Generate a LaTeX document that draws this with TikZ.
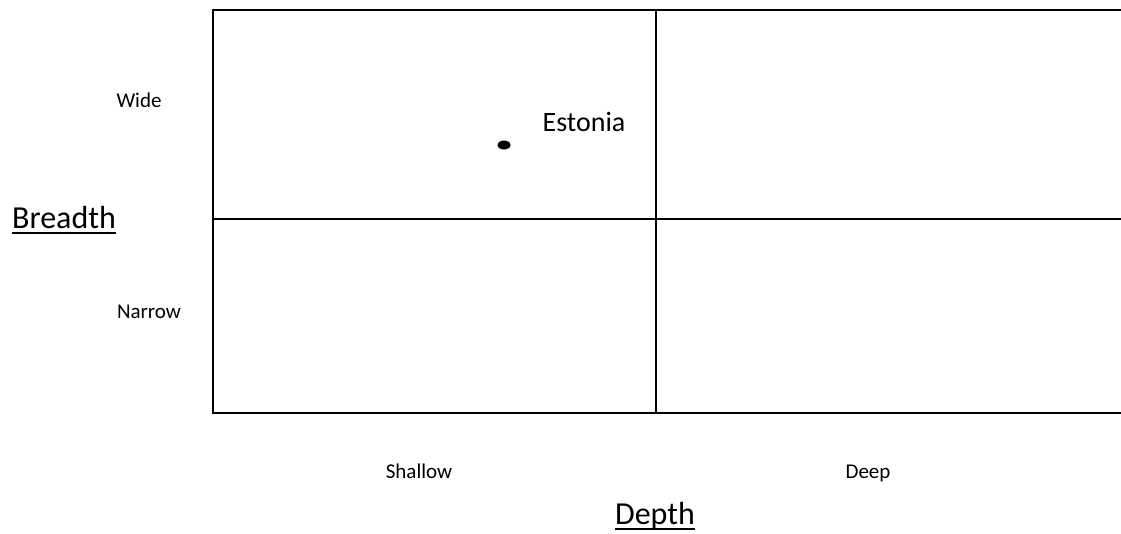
\documentclass[tikz,border=0pt]{standalone}
\usepackage{fontspec}
\setmainfont{Carlito}
\begin{document}
\begin{tikzpicture}[x=1pt,y=-1pt,
  grid/.style={line width=2pt,black},
  small/.style={font=\fontsize{21}{24}\selectfont,inner sep=0pt,anchor=base},
  axis/.style={font=\fontsize{32}{36}\selectfont,inner sep=0pt,anchor=base},
  uline/.style={line width=1.8pt,black},
  mid/.style={font=\fontsize{28}{32}\selectfont,inner sep=0pt}]
\useasboundingbox (0,0) rectangle (1121,533);
\coordinate (tl) at (213,10);
\coordinate (tr) at (1122,10);
\coordinate (bl) at (213,413);
\coordinate (br) at (1122,413);
\coordinate (mt) at (656,10);
\coordinate (mb) at (656,413);
\coordinate (ml) at (213,219);
\coordinate (mr) at (1122,219);
\draw[grid] (tr) -- (tl) -- (bl) -- (br);
\draw[grid] (mt) -- (mb);
\draw[grid] (ml) -- (mr);
\node[small] (wide) at (139,107) {Wide};
\node[small] (narrow) at (149,318) {Narrow};
\node[small] (shallow) at (419,478) {Shallow};
\node[small] (deep) at (868,478) {Deep};
\node[axis] (breadth) at (64,228) {Breadth};
\draw[uline] ([yshift=-5pt]breadth.base west) -- ([yshift=-5pt]breadth.base east);
\node[axis] (depth) at (655,524) {Depth};
\draw[uline] ([yshift=-5pt]depth.base west) -- ([yshift=-5pt]depth.base east);
\node[mid] (estonia) at (584,122) {Estonia};
\fill (504,145) ellipse [x radius=6.5, y radius=4.5];
\end{tikzpicture}
\end{document}
